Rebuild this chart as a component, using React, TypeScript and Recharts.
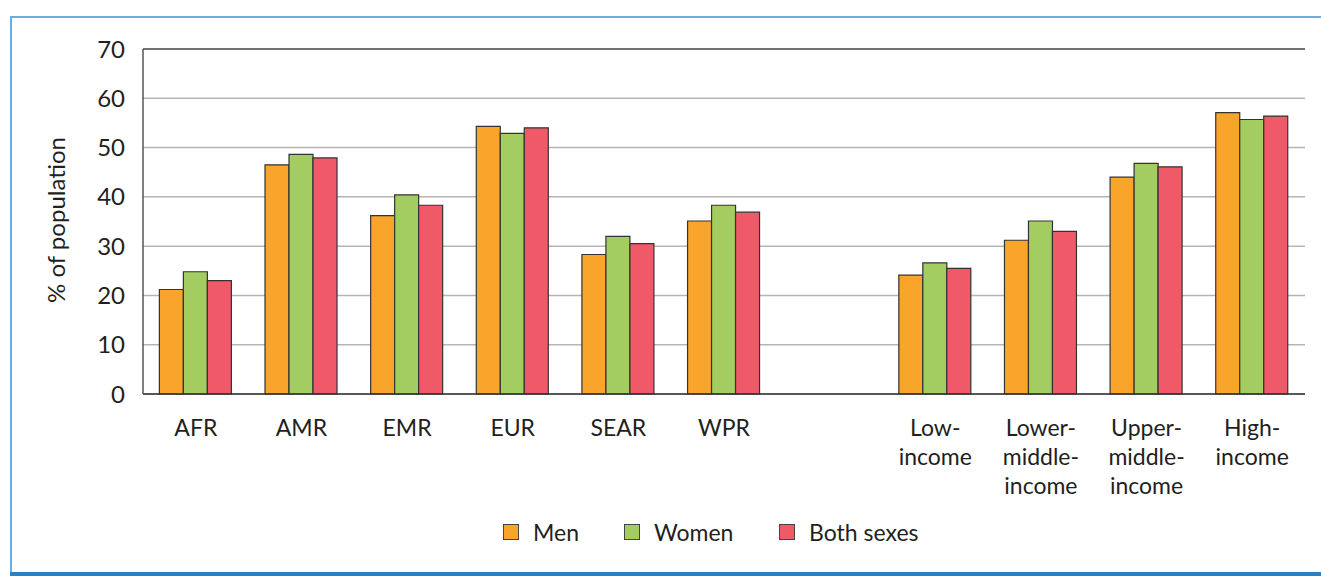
import React from "react"
import {
  BarChart,
  Bar,
  XAxis,
  YAxis,
  CartesianGrid,
  Legend,
  ReferenceLine,
} from "recharts"

// categories (empty slot separates WHO regions from income groups)
const categories = [
  "AFR",
  "AMR",
  "EMR",
  "EUR",
  "SEAR",
  "WPR",
  "",
  "Low-\nincome",
  "Lower-\nmiddle-\nincome",
  "Upper-\nmiddle-\nincome",
  "High-\nincome",
]

const men = [21.2, 46.5, 36.2, 54.3, 28.3, 35.1, null, 24.1, 31.2, 44.0, 57.1]
const women = [24.8, 48.6, 40.4, 52.9, 32.0, 38.3, null, 26.6, 35.1, 46.8, 55.7]
const bothSexes = [23.0, 47.9, 38.3, 54.0, 30.5, 36.9, null, 25.5, 33.0, 46.1, 56.4]

const yTicks = [0, 10, 20, 30, 40, 50, 60, 70]

const seriesColors = {
  men: "#f9a52b",
  women: "#a3cd60",
  both: "#f05a68",
}

const FONT = "Lato, 'Open Sans', sans-serif"
const TEXT = "#231f20"

const data = categories.map((name, i) => ({
  name,
  men: men[i],
  women: women[i],
  both: bothSexes[i],
}))

const legendItems = [
  { key: "men", label: "Men", color: seriesColors.men, width: 121 },
  { key: "women", label: "Women", color: seriesColors.women, width: 155 },
  { key: "both", label: "Both sexes", color: seriesColors.both, width: 150 },
]

function XTick(props: any) {
  const { x, y, payload } = props
  const lines = String(payload.value).split("\n")
  return (
    <text
      x={x}
      y={y}
      textAnchor="middle"
      fill={TEXT}
      fontSize={23}
      fontFamily={FONT}
    >
      {lines.map((line, i) => (
        <tspan key={i} x={x} dy={i === 0 ? 34 : 29}>
          {line}
        </tspan>
      ))}
    </text>
  )
}

function LegendContent() {
  return (
    <div
      style={{
        display: "flex",
        fontFamily: FONT,
        fontSize: 23,
        color: TEXT,
        paddingLeft: 503,
      }}
    >
      {legendItems.map((item) => (
        <div
          key={item.key}
          style={{ display: "flex", alignItems: "center", width: item.width }}
        >
          <span
            style={{
              display: "inline-block",
              width: 14,
              height: 14,
              background: item.color,
              border: "1px solid #444",
              marginRight: 14,
            }}
          />
          <span>{item.label}</span>
        </div>
      ))}
    </div>
  )
}

export default function App() {
  return (
    <div style={{ position: "relative", width: 1321, height: 576, background: "#fff" }}>
      <style>{`body{margin:0}`}</style>
      {/* frame */}
      <div style={{ position: "absolute", left: 10, top: 16, width: 1311, height: 2, background: "#6aaee0" }} />
      <div style={{ position: "absolute", left: 10, top: 16, width: 2, height: 556, background: "#6aaee0" }} />
      <div style={{ position: "absolute", left: 10, top: 572, width: 1311, height: 4, background: "#2a80c4" }} />

      <div style={{ position: "absolute", left: 0, top: 0 }}>
        <BarChart
          width={1321}
          height={576}
          data={data}
          margin={{ top: 49, right: 16, left: 0, bottom: 0 }}
          barCategoryGap="15.5%"
          barGap={0}
        >
          <CartesianGrid vertical={false} stroke="#b5b5b5" strokeWidth={1.5} />
          <ReferenceLine y={70} stroke="#555" strokeWidth={1.5} />
          <XAxis
            dataKey="name"
            interval={0}
            height={182}
            tickLine={false}
            axisLine={{ stroke: "#333", strokeWidth: 1.5 }}
            tick={<XTick />}
          />
          <YAxis
            width={143}
            domain={[0, 70]}
            ticks={yTicks}
            tickLine={false}
            tickSize={0}
            tickMargin={18}
            axisLine={{ stroke: "#555", strokeWidth: 1.5 }}
            tick={{ fill: TEXT, fontSize: 24, fontFamily: FONT }}
            label={{
              content: () => (
                <text
                  x={55}
                  y={220}
                  transform="rotate(-90 55 220)"
                  textAnchor="middle"
                  dominantBaseline="central"
                  fill={TEXT}
                  fontSize={24}
                  fontFamily={FONT}
                >
                  % of population
                </text>
              ),
            }}
          />
          <YAxis
            yAxisId="right"
            orientation="right"
            width={0}
            domain={[0, 70]}
            tick={false}
            tickLine={false}
            axisLine={{ stroke: "#8a8a8a", strokeWidth: 2 }}
          />
          <Legend
            verticalAlign="middle"
            align="center"
            wrapperStyle={{ top: 518, left: 0, width: 1321 }}
            content={<LegendContent />}
          />
          <Bar dataKey="men" name="Men" fill={seriesColors.men} stroke="#333" strokeWidth={1.2} isAnimationActive={false} />
          <Bar dataKey="women" name="Women" fill={seriesColors.women} stroke="#333" strokeWidth={1.2} isAnimationActive={false} />
          <Bar dataKey="both" name="Both sexes" fill={seriesColors.both} stroke="#333" strokeWidth={1.2} isAnimationActive={false} />
        </BarChart>
      </div>
    </div>
  )
}
